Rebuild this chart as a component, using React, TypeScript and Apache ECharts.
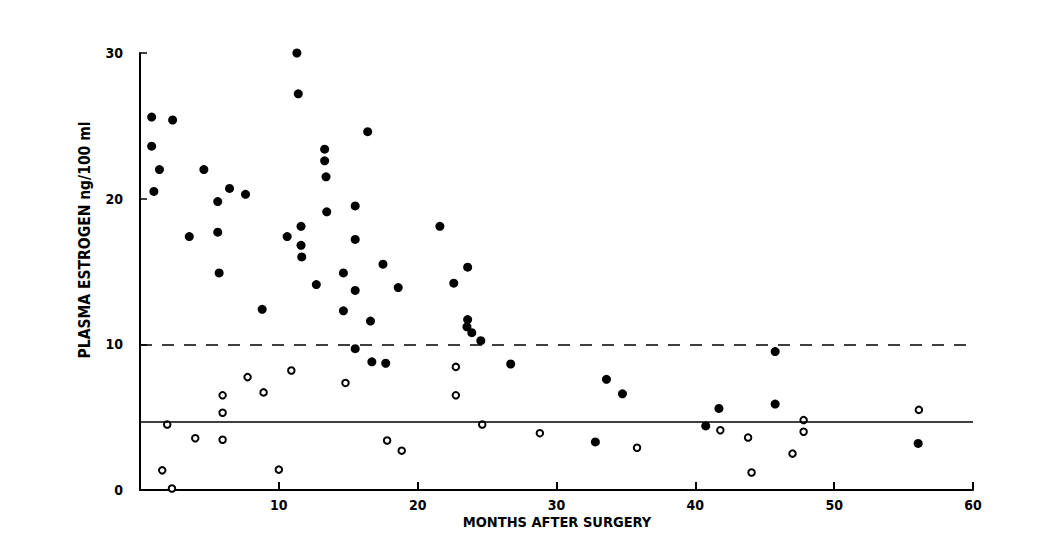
import React, { useEffect, useRef } from "react";
import * as echarts from "echarts";

// Months after surgery vs plasma estrogen (ng/100 ml)
const filledX = [0.84, 2.35, 0.84, 1.4, 1.0, 4.6, 6.45, 7.6, 5.6, 3.55, 5.6, 5.7, 11.3, 11.4, 13.3, 13.3, 13.4, 13.45, 15.5, 15.5, 10.6, 11.6, 11.6, 11.65, 14.65, 12.7, 15.5, 8.8, 14.65, 15.5, 16.4, 21.6, 17.5, 23.6, 18.6, 22.6, 16.6, 23.6, 23.55, 23.9, 24.55, 16.7, 17.7, 26.7, 33.6, 34.75, 32.8, 45.75, 45.75, 41.7, 40.75, 56.05];
const filledY = [25.6, 25.4, 23.6, 22.0, 20.5, 22.0, 20.7, 20.3, 19.8, 17.4, 17.7, 14.9, 30.0, 27.2, 23.4, 22.6, 21.5, 19.1, 19.5, 17.2, 17.4, 18.1, 16.8, 16.0, 14.9, 14.1, 13.7, 12.4, 12.3, 9.7, 24.6, 18.1, 15.5, 15.3, 13.9, 14.2, 11.6, 11.7, 11.2, 10.8, 10.25, 8.8, 8.7, 8.65, 7.6, 6.6, 3.3, 9.5, 5.9, 5.6, 4.4, 3.2];

const openX = [1.96, 1.6, 2.3, 3.98, 5.95, 5.95, 5.95, 7.75, 8.9, 10.9, 10.0, 14.8, 22.75, 22.75, 17.8, 18.85, 24.65, 28.8, 35.8, 41.8, 43.8, 44.05, 47.0, 47.8, 47.8, 56.1];
const openY = [4.5, 1.35, 0.1, 3.55, 6.5, 5.3, 3.45, 7.75, 6.7, 8.2, 1.4, 7.35, 8.45, 6.5, 3.4, 2.7, 4.5, 3.9, 2.9, 4.1, 3.6, 1.2, 2.5, 4.8, 4.0, 5.5];

const upperLimit = 10;
const lowerLimit = 4.7;

const xTicks = [0, 10, 20, 30, 40, 50, 60];
const yTicks = [0, 10, 20, 30];

const xTitle = "MONTHS AFTER SURGERY";
const yTitle = "PLASMA ESTROGEN ng/100 ml";

export default function App() {
  const ref = useRef<HTMLDivElement>(null);
  useEffect(() => {
    if (!ref.current) return;
    const chart = echarts.init(ref.current, null, { renderer: "svg" });
    const font = "DejaVu Sans Condensed, DejaVu Sans, sans-serif";
    chart.setOption({
      animation: false,
      backgroundColor: "#ffffff",
      grid: { left: 140, right: 78, top: 53, bottom: 70 },
      xAxis: {
        type: "value",
        min: xTicks[0],
        max: xTicks[xTicks.length - 1],
        interval: 10,
        splitLine: { show: false },
        axisLine: { show: true, lineStyle: { color: "#000", width: 2 } },
        axisTick: { show: true, inside: true, length: 8, lineStyle: { color: "#000", width: 2 } },
        axisLabel: {
          color: "#000",
          fontFamily: font,
          fontWeight: "bold",
          fontSize: 14,
          margin: 8,
          formatter: (v: number) => (v === 0 ? "" : String(v)),
        },
      },
      yAxis: {
        type: "value",
        min: yTicks[0],
        max: yTicks[yTicks.length - 1],
        interval: 10,
        splitLine: { show: false },
        axisLine: { show: true, lineStyle: { color: "#000", width: 2 } },
        axisTick: { show: true, inside: true, length: 7, lineStyle: { color: "#000", width: 1.5 } },
        axisLabel: {
          color: "#000",
          fontFamily: font,
          fontWeight: "bold",
          fontSize: 14,
          margin: 17,
        },
      },
      graphic: [
        {
          type: "text",
          x: 85,
          y: 240,
          rotation: Math.PI / 2,
          style: {
            text: yTitle,
            fill: "#000",
            font: `bold 15.5px ${font}`,
            textAlign: "center",
            textVerticalAlign: "middle",
          },
        },
        {
          type: "text",
          x: 557,
          y: 522,
          style: {
            text: xTitle,
            fill: "#000",
            font: `bold 14.5px ${font}`,
            textAlign: "center",
            textVerticalAlign: "middle",
          },
        },
      ],
      series: [
        {
          type: "scatter",
          name: "filled",
          data: filledX.map((x, i) => [x, filledY[i]]),
          symbol: "circle",
          symbolSize: 9,
          itemStyle: { color: "#000", opacity: 1 },
          markLine: {
            silent: true,
            symbol: ["none", "none"],
            label: { show: false },
            data: [
              { yAxis: upperLimit, lineStyle: { type: [12, 10], color: "#000", width: 1.6, opacity: 1 } },
              { yAxis: lowerLimit, lineStyle: { type: "solid", color: "#000", width: 1.6, opacity: 1 } },
            ],
          },
        },
        {
          type: "scatter",
          name: "open",
          data: openX.map((x, i) => [x, openY[i]]),
          symbol: "circle",
          symbolSize: 6.5,
          itemStyle: { color: "#fff", borderColor: "#000", borderWidth: 2, opacity: 1 },
        },
      ],
    });
    return () => chart.dispose();
  }, []);
  return (
    <div
      ref={ref}
      style={{ position: "fixed", left: 0, top: 0, width: 1051, height: 560, background: "#fff" }}
    />
  );
}
